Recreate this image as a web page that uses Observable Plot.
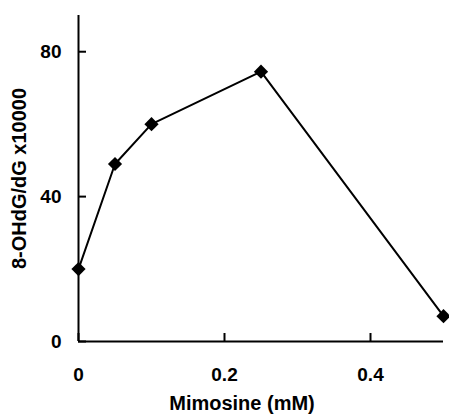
<!DOCTYPE html>
<html>
<head>
<meta charset="utf-8">
<script src="https://cdn.jsdelivr.net/npm/d3@7"></script>
<script src="https://cdn.jsdelivr.net/npm/@observablehq/plot@0.6"></script>
<style>
  html, body { margin: 0; padding: 0; background: #fff; }
  svg { display: block; }
</style>
</head>
<body>
<div id="chart"></div>
<script>
const mimosine = [0, 0.05, 0.1, 0.25, 0.5];
const ohdg = [20, 49, 60, 74.5, 7];
const xTicks = [0, 0.2, 0.4];
const yTicks = [0, 40, 80];
const xTitle = ["Mimosine (mM)"];
const yTitle = ["8-OHdG/dG x10000"];

const data = mimosine.map((x, i) => ({x, y: ohdg[i]}));
const font = "Liberation Sans, Arial, Helvetica, sans-serif";

const chart = Plot.plot({
  width: 449,
  height: 414,
  marginLeft: 78,
  marginRight: 6,
  marginTop: 15,
  marginBottom: 73,
  style: {fontFamily: font, background: "#fff", color: "#000"},
  x: {domain: [0, 0.5]},
  y: {domain: [0, 90]},
  marks: [
    Plot.axisX({ticks: xTicks, tickSize: 8, dy: -8, strokeWidth: 2, tickFormat: () => "", label: null}),
    Plot.axisX({ticks: xTicks, tickSize: 0, tickPadding: 26, tickFormat: d => String(d), fontSize: 19, fontWeight: "bold", label: null}),
    Plot.axisY({ticks: yTicks, tickSize: 8, dx: 8, strokeWidth: 2, tickFormat: () => "", label: null}),
    Plot.axisY({ticks: yTicks, tickSize: 0, tickPadding: 17, tickFormat: d => String(d), fontSize: 19, fontWeight: "bold", label: null}),
    Plot.ruleX([0], {stroke: "#000", strokeWidth: 2}),
    Plot.ruleY([0], {stroke: "#000", strokeWidth: 2}),
    Plot.line(data, {x: "x", y: "y", stroke: "#000", strokeWidth: 2}),
    Plot.dot(data, {x: "x", y: "y", symbol: "diamond2", r: 6.4, fill: "#000", stroke: "none"}),
    Plot.text(xTitle, {frameAnchor: "bottom", textAnchor: "middle", dx: -19, dy: 54, lineAnchor: "top", fontSize: 20, fontWeight: "bold", text: d => d}),
    Plot.text(yTitle, {frameAnchor: "left", textAnchor: "middle", dx: -58.5, rotate: -90, lineAnchor: "middle", fontSize: 20, fontWeight: "bold", text: d => d})
  ]
});
document.getElementById("chart").appendChild(chart);
</script>
</body>
</html>
